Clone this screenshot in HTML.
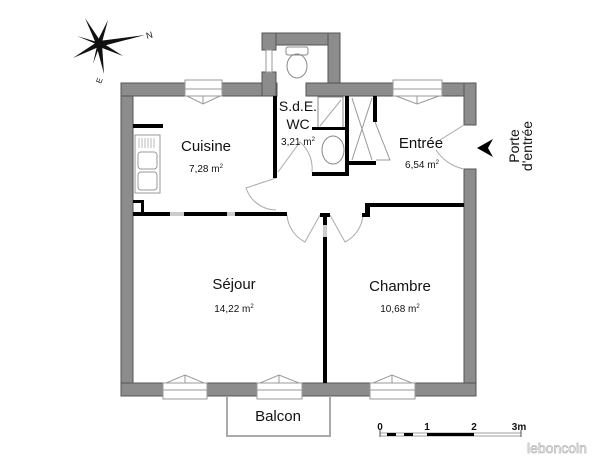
<!DOCTYPE html>
<html><head><meta charset="utf-8"><style>
html,body{margin:0;padding:0;background:#fff;}
svg{display:block;font-family:"Liberation Sans",sans-serif;}
</style></head><body>
<svg width="613" height="460" viewBox="0 0 613 460" xmlns="http://www.w3.org/2000/svg">
<rect width="613" height="460" fill="#fff"/>
<!-- compass -->
<g transform="translate(99,44)" fill="#111">
<polygon points="0,-3 46,-9 0,3"/>
<polygon points="-3,0 3,0 5,30"/>
<polygon points="-2,-2 2,2 -26,14"/>
<polygon points="-2,2 2,-2 -14,-26"/>
<polygon points="-2,-2 2,2 9,-24"/>
<polygon points="-2,-2 2,2 -22,-8"/>
<polygon points="-2,2 2,-2 -6,20"/>
<polygon points="-2,2 2,-2 24,12"/>
<text x="48" y="-5" font-size="9" transform="rotate(-15 48 -5)">N</text>
<text x="2" y="40" font-size="8" transform="rotate(-70 2 40)">E</text>
</g>
<!-- outer walls -->
<g fill="#8c8c8c" stroke="#555" stroke-width="1">
<rect x="121" y="83" width="12" height="313"/>
<rect x="121" y="83" width="64" height="13"/>
<rect x="222" y="83" width="55" height="13"/>
<rect x="262" y="33" width="78" height="12"/>
<rect x="262" y="33" width="14" height="17"/>
<rect x="262" y="72" width="14" height="24"/>
<rect x="328" y="33" width="12" height="63"/>
<rect x="306" y="83" width="87" height="13"/>
<rect x="442" y="83" width="34" height="13"/>
<rect x="464" y="83" width="12" height="42"/>
<rect x="464" y="169" width="12" height="227"/>
<rect x="121" y="383" width="42" height="13"/>
<rect x="207" y="383" width="50" height="13"/>
<rect x="302" y="383" width="68" height="13"/>
<rect x="415" y="383" width="61" height="13"/>
</g>
<!-- windows -->
<g fill="none" stroke="#999" stroke-width="1">
<rect x="185" y="80" width="37" height="16"/><line x1="185" y1="89" x2="222" y2="89"/>
<path d="M187,96 L203,104 L220,96 M203,96 L203,104"/>
<rect x="393" y="80" width="49" height="16"/><line x1="393" y1="89" x2="442" y2="89"/>
<path d="M396,96 L417,104 L439,96 M417,96 L417,104"/>
<rect x="163" y="383" width="44" height="16"/><line x1="163" y1="390" x2="207" y2="390"/>
<path d="M166,383 L185,375 L204,383 M185,383 L185,375"/>
<rect x="257" y="383" width="45" height="16"/><line x1="257" y1="390" x2="302" y2="390"/>
<path d="M260,383 L279,375 L299,383 M279,383 L279,375"/>
<rect x="370" y="383" width="45" height="16"/><line x1="370" y1="390" x2="415" y2="390"/>
<path d="M373,383 L392,375 L412,383 M392,383 L392,375"/>
<rect x="266" y="50" width="6" height="22"/>
<!-- balcony -->
<path d="M227,396 L227,436 L330,436 L330,396" stroke="#aaa" stroke-width="2"/>
<!-- doors -->
<path d="M276,178 L246,188 A32,32 0 0 0 276,210" stroke="#aaa"/>
<path d="M287,215 A33,33 0 0 0 305,242 L320,215" stroke="#aaa"/>
<path d="M330,215 L345,242 A33,33 0 0 0 363,215" stroke="#aaa"/>
<path d="M278,172 L300,142 A35,35 0 0 1 312,172" stroke="#aaa"/>
<path d="M464,125 L440,140 M464,169 A44,44 0 0 1 436,150" stroke="#aaa"/>
<path d="M352,98 L372,160 M372,98 L352,160 M375,122 L390,160 L376,160" stroke="#999"/>
<!-- toilet -->
<rect x="286" y="47" width="22" height="8" rx="2" stroke="#888"/>
<ellipse cx="297" cy="66" rx="10" ry="12" stroke="#888"/>
<!-- shower -->
<rect x="318" y="97" width="25" height="31" stroke="#888"/>
<line x1="320" y1="126" x2="341" y2="100" stroke="#aaa"/>
<ellipse cx="333" cy="150" rx="11" ry="14" stroke="#888"/>
<!-- sink -->
<rect x="135" y="135" width="25" height="58" stroke="#999"/>
<rect x="138" y="152" width="19" height="17" rx="3" stroke="#999"/>
<rect x="138" y="172" width="19" height="18" rx="3" stroke="#999"/>
<path d="M139,138 v10 M142,138 v10 M145,138 v10 M148,138 v10 M151,138 v10 M154,138 v10" stroke="#bbb"/>
</g>
<!-- interior black walls -->
<g fill="#000">
<rect x="133" y="124" width="30" height="4"/>
<rect x="273" y="96" width="4" height="82"/>
<rect x="345" y="96" width="4" height="79"/>
<rect x="312" y="172" width="37" height="4"/>
<rect x="312" y="127" width="35" height="3"/>
<rect x="373" y="96" width="4" height="26"/>
<rect x="349" y="161" width="27" height="4"/>
<rect x="133" y="212" width="154" height="4"/>
<rect x="133" y="200" width="10" height="3"/>
<rect x="141" y="200" width="3" height="14"/>
<rect x="320" y="213" width="10" height="4"/>
<rect x="323" y="213" width="4" height="170"/>
<rect x="365" y="203" width="99" height="4"/>
<rect x="365" y="203" width="5" height="14"/>
<rect x="362" y="213" width="6" height="4"/>
</g>
<g fill="#ccc"><rect x="170" y="212" width="14" height="4"/><rect x="227" y="212" width="8" height="4"/><rect x="323" y="225" width="4" height="12"/></g>
<!-- arrow -->
<polygon points="477,148 493,139 488,148 493,157" fill="#000"/>
<!-- labels -->
<g fill="#111" text-anchor="middle">
<text x="206" y="151" font-size="15">Cuisine</text>
<text x="206" y="172" font-size="10">7,28 m<tspan font-size="6" dy="-4">2</tspan></text>
<text x="298" y="111" font-size="14">S.d.E.</text>
<text x="298" y="129" font-size="14">WC</text>
<text x="298" y="145" font-size="10">3,21 m<tspan font-size="6" dy="-4">2</tspan></text>
<text x="421" y="148" font-size="15">Entrée</text>
<text x="422" y="168" font-size="10">6,54 m<tspan font-size="6" dy="-4">2</tspan></text>
<text x="234" y="289" font-size="15">Séjour</text>
<text x="234" y="312" font-size="10">14,22 m<tspan font-size="6" dy="-4">2</tspan></text>
<text x="400" y="291" font-size="15">Chambre</text>
<text x="400" y="312" font-size="10">10,68 m<tspan font-size="6" dy="-4">2</tspan></text>
<text x="278" y="421" font-size="15">Balcon</text>
<text x="0" y="0" font-size="14" transform="translate(519,146) rotate(-90)">Porte</text>
<text x="0" y="0" font-size="14" transform="translate(532,146) rotate(-90)">d'entrée</text>
<g font-size="10" font-weight="bold"><text x="380" y="430">0</text><text x="427" y="430">1</text><text x="474" y="430">2</text><text x="519" y="430">3m</text></g>
</g>
<g>
<rect x="380" y="433" width="141" height="3" fill="none" stroke="#888" stroke-width="0.8"/>
<rect x="387" y="433" width="9" height="3" fill="#000"/>
<rect x="404" y="433" width="9" height="3" fill="#000"/>
<rect x="427" y="433" width="47" height="3" fill="#000"/>
<line x1="380" y1="430" x2="380" y2="437" stroke="#555"/>
<line x1="521" y1="430" x2="521" y2="437" stroke="#555"/>
</g>
<text x="527" y="453" font-size="14" fill="#fff" stroke="#bbb" stroke-width="0.8">leboncoin</text>
</svg>
</body></html>
